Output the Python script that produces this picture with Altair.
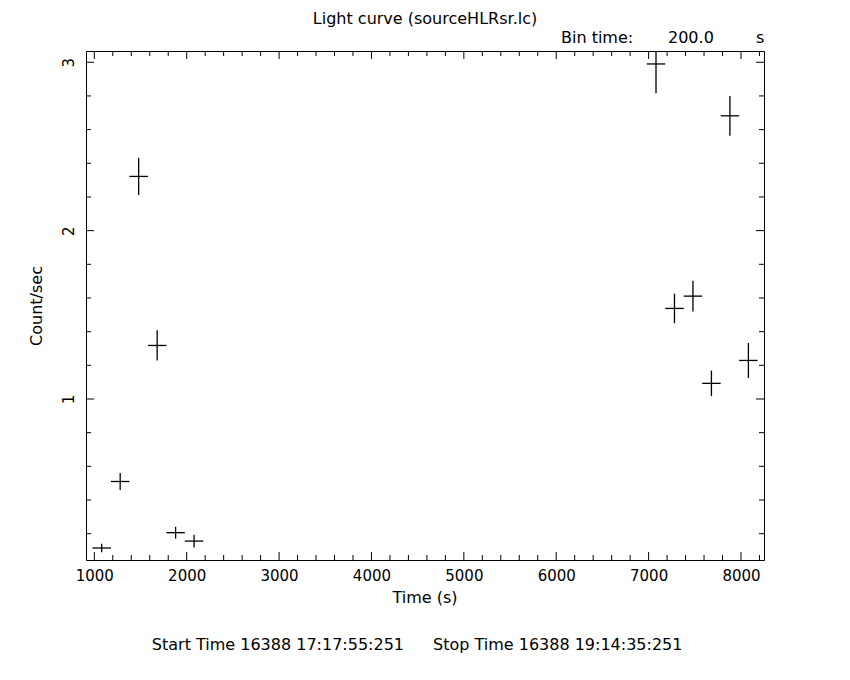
import altair as alt
import pandas as pd
import numpy as np

# ---- data ----
time_s = [1080, 1280, 1480, 1680, 1880, 2080, 7080, 7280, 7480, 7680, 7880, 8080]
rate = [0.115, 0.510, 2.322, 1.318, 0.206, 0.156, 2.990, 1.538, 1.611, 1.093, 2.682, 1.229]
rate_err = [0.025, 0.051, 0.111, 0.090, 0.035, 0.038, 0.174, 0.088, 0.091, 0.076, 0.118, 0.104]
half_bin = 100.0

x_major = [1000, 2000, 3000, 4000, 5000, 6000, 7000, 8000]
x_minor = [v for v in range(1000, 8400, 200) if v % 1000 != 0]
y_major = [1, 2, 3]
y_minor = [round(0.2 * i, 1) for i in range(1, 16) if i % 5 != 0]

title_text = "Light curve (sourceHLRsr.lc)"
bin_label = "Bin time:"
bin_value = "200.0"
bin_unit = "s"
x_title = "Time (s)"
y_title = "Count/sec"
footer_start = "Start Time 16388 17:17:55:251"
footer_stop = "Stop Time 16388 19:14:35:251"

W, H = 678, 509
FONT = "DejaVu Sans"
FS = 15
TFS = 16

df = pd.DataFrame({"t": time_s, "c": rate, "e": rate_err})
df["c_lo"] = df["c"] - df["e"]
df["c_hi"] = df["c"] + df["e"]
df["t_lo"] = df["t"] - half_bin
df["t_hi"] = df["t"] + half_bin

xs = alt.Scale(domain=[910, 8249], nice=False, zero=False)
ys = alt.Scale(domain=[0.0437, 3.067], nice=False, zero=False)

x_axis = alt.Axis(values=x_major, format="d", ticks=False, domain=False, grid=False,
                  labelFont=FONT, labelFontSize=FS, labelColor="black", labelPadding=8,
                  title=None)
y_axis = alt.Axis(values=y_major, format="d", ticks=False, domain=False, grid=False,
                  labelFont=FONT, labelFontSize=FS, labelColor="black", labelAngle=-90,
                  labelPadding=10, title=None)

base = alt.Chart(df)

vbars = base.mark_rule(color="black", strokeWidth=1.3, clip=True).encode(
    x=alt.X("t:Q", scale=xs, axis=x_axis),
    y=alt.Y("c_lo:Q", scale=ys, axis=y_axis),
    y2="c_hi:Q",
)
hbars = base.mark_rule(color="black", strokeWidth=1.3, clip=True).encode(
    x=alt.X("t_lo:Q", scale=xs),
    x2="t_hi:Q",
    y=alt.Y("c:Q", scale=ys),
)

def xticks(vals, length):
    d = pd.DataFrame({"v": vals})
    bot = alt.Chart(d).mark_rule(color="black", strokeWidth=1).encode(
        x=alt.X("v:Q", scale=xs), y=alt.value(H), y2=alt.value(H - length))
    top = alt.Chart(d).mark_rule(color="black", strokeWidth=1).encode(
        x=alt.X("v:Q", scale=xs), y=alt.value(0), y2=alt.value(length))
    return bot + top

def yticks(vals, length):
    d = pd.DataFrame({"v": vals})
    left = alt.Chart(d).mark_rule(color="black", strokeWidth=1).encode(
        y=alt.Y("v:Q", scale=ys), x=alt.value(0), x2=alt.value(length))
    right = alt.Chart(d).mark_rule(color="black", strokeWidth=1).encode(
        y=alt.Y("v:Q", scale=ys), x=alt.value(W), x2=alt.value(W - length))
    return left + right

one = pd.DataFrame({"k": [0]})

def label(txt, x, y, align="center", angle=0, size=TFS):
    return alt.Chart(one).mark_text(font=FONT, fontSize=size, color="black", align=align,
                                    baseline="middle", angle=angle).encode(
        x=alt.value(x), y=alt.value(y), text=alt.value(txt))

texts = (
    label(title_text, W / 2, -32)
    + label(bin_label, 475, -13, align="left")
    + label(bin_value, 582, -13, align="left")
    + label(bin_unit, 670, -13, align="left")
    + label(x_title, W / 2, 547)
    + label(y_title, -49, 255, angle=270)
    + label(footer_start, 318, 594, align="right")
    + label(footer_stop, 347, 594, align="left")
)

chart = alt.layer(
    vbars, hbars,
    xticks(x_major, 8), xticks(x_minor, 5),
    yticks(y_major, 8), yticks(y_minor, 5),
    texts,
).properties(
    width=W, height=H,
    autosize=alt.AutoSizeParams(type="none"),
    padding={"left": 78, "top": 43, "right": 78, "bottom": 112},
    background="white",
).configure_view(stroke="black", strokeWidth=1)

chart.save("out.html", embed_options={"renderer": "svg", "actions": False})
